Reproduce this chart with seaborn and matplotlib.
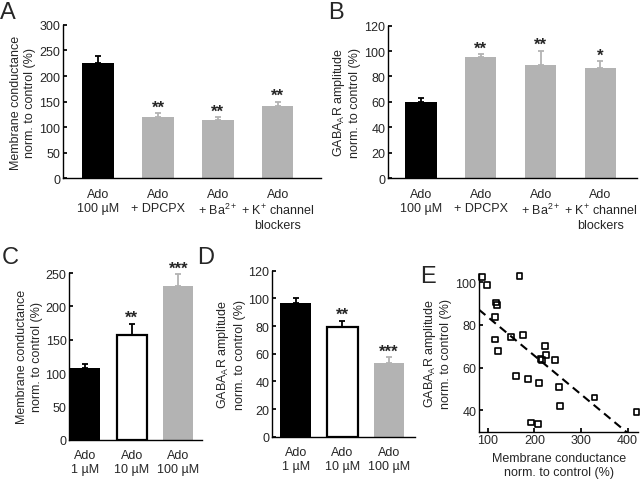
import numpy as np
import matplotlib
matplotlib.use('Agg')
import matplotlib.pyplot as plt
import seaborn as sns

# --- data ---
a_labels = ['Ado\n100 µM', 'Ado\n+ DPCPX', 'Ado\n+ Ba$^{2+}$', 'Ado\n+ K$^{+}$ channel\nblockers']
a_means = [225, 120, 114, 142]
a_sem = [15, 7, 5, 8]
a_stars = ['', '**', '**', '**']

b_means = [60, 95, 89, 87]
b_sem = [2.8, 2.7, 11.3, 5.2]
b_stars = ['', '**', '**', '*']

cd_labels = ['Ado\n1 µM', 'Ado\n10 µM', 'Ado\n100 µM']
c_means = [107, 157, 230]
c_sem = [7, 17, 18]
c_stars = ['', '**', '***']

d_means = [97, 79, 53.5]
d_sem = [3.5, 5, 4]
d_stars = ['', '**', '***']

e_conductance = [87, 98, 168, 118, 119, 116, 116, 121, 150, 175, 161, 186,
                 223, 225, 213, 216, 245, 209, 253, 254, 193, 207, 329, 419]
e_gaba = [102.3, 98.9, 103.1, 90.5, 89.5, 83.6, 73.2, 67.6, 74.3, 75.1, 56.1, 54.8,
          70.0, 66.0, 64.2, 63.6, 63.4, 53.0, 51.1, 41.9, 34.3, 33.8, 46.0, 39.3]
fit_slope, fit_intercept = -0.181, 101.8

GRAY = '#b3b3b3'
cond_label = 'Membrane conductance\nnorm. to control (%)'
gaba_label = 'GABA$_{\\rm A}$R amplitude\nnorm. to control (%)'

sns.set_theme(style='ticks')
plt.rcParams['font.family'] = ['Liberation Sans', 'DejaVu Sans']
plt.rcParams['mathtext.fontset'] = 'custom'
plt.rcParams['mathtext.rm'] = 'Liberation Sans'
plt.rcParams['mathtext.it'] = 'Liberation Sans:italic'
plt.rcParams['mathtext.bf'] = 'Liberation Sans:bold'
plt.rcParams['axes.linewidth'] = 1.0
plt.rcParams['axes.edgecolor'] = 'black'


def bar_panel(ax, labels, means, sem, stars, colors, width, ylim, step, ylabel, xlim):
    sns.barplot(x=labels, y=means, hue=labels, palette=colors, legend=False,
                width=width, saturation=1, ax=ax)
    for i, patch in enumerate(ax.patches[:len(means)]):
        if colors[i] == 'white':
            patch.set_edgecolor('black')
            patch.set_linewidth(1.6)
        else:
            patch.set_linewidth(0)
    for i, (m, s) in enumerate(zip(means, sem)):
        ecol = 'black' if colors[i] != GRAY else GRAY
        ax.errorbar(i, m, yerr=[[0], [s]], fmt='none', ecolor=ecol,
                    elinewidth=1.3, capsize=2.5, capthick=1.3)
        if stars[i]:
            ax.annotate(stars[i], (i, m + s), xytext=(0, -1), textcoords='offset points',
                        ha='center', va='bottom', fontsize=12, fontweight='bold')
    ax.set_ylim(*ylim)
    ax.set_yticks(np.arange(ylim[0], ylim[1] + 1, step))
    ax.set_xlim(*xlim)
    ax.set_ylabel(ylabel, fontsize=9, labelpad=2, linespacing=1.3)
    ax.tick_params(axis='y', direction='in', length=3, labelsize=9, pad=2, color='black')
    ax.tick_params(axis='x', length=0, labelsize=9, pad=7)
    sns.despine(ax=ax)


fig = plt.figure(figsize=(6.4, 4.85), dpi=100)
ax_a = fig.add_axes([0.0984, 0.6309, 0.403, 0.3155])
ax_b = fig.add_axes([0.6063, 0.6309, 0.389, 0.314])
ax_c = fig.add_axes([0.1083, 0.0913, 0.2069, 0.3437])
ax_d = fig.add_axes([0.4255, 0.0975, 0.223, 0.3423])
ax_e = fig.add_axes([0.7484, 0.1078, 0.249, 0.3258])

bar_panel(ax_a, a_labels, a_means, a_sem, a_stars, ['black', GRAY, GRAY, GRAY],
          0.52, (0, 300), 50, cond_label, (-0.583, 3.717))
bar_panel(ax_b, a_labels, b_means, b_sem, b_stars, ['black', GRAY, GRAY, GRAY],
          0.52, (0, 120), 20, gaba_label, (-0.55, 3.61))
bar_panel(ax_c, cd_labels, c_means, c_sem, c_stars, ['black', 'white', GRAY],
          0.64, (0, 250), 50, cond_label, (-0.336, 2.5))
bar_panel(ax_d, cd_labels, d_means, d_sem, d_stars, ['black', 'white', GRAY],
          0.66, (0, 120), 20, gaba_label, (-0.5, 2.56))

# panel E: scatter with regression line
sns.scatterplot(x=e_conductance, y=e_gaba, marker='s', s=18, facecolor='none',
                edgecolor='black', linewidth=1.2, clip_on=False, ax=ax_e)
ax_e.set_xlim(81, 423)
ax_e.set_ylim(30, 104)
line_x = np.linspace(81, 423, 50)
sns.lineplot(x=line_x, y=fit_intercept + fit_slope * line_x, color='black',
             linewidth=1.5, ax=ax_e)
ax_e.lines[-1].set_linestyle((0, (4, 2.5)))
ax_e.set_xticks([100, 200, 300, 400])
ax_e.set_yticks([40, 60, 80, 100])
ax_e.set_xlabel(cond_label, fontsize=9, labelpad=4)
ax_e.set_ylabel(gaba_label, fontsize=9, labelpad=2, linespacing=1.3)
ax_e.tick_params(direction='in', length=3, labelsize=9, pad=2, color='black')
sns.despine(ax=ax_e)

# panel letters
for letter, (x, y) in zip('ABCDE', [(0.0, 0.995), (0.5125, 0.995), (0.003, 0.49),
                                    (0.308, 0.49), (0.656, 0.452)]):
    fig.text(x, y, letter, fontsize=17, va='top', ha='left')

fig.savefig('out.png', dpi=100)
